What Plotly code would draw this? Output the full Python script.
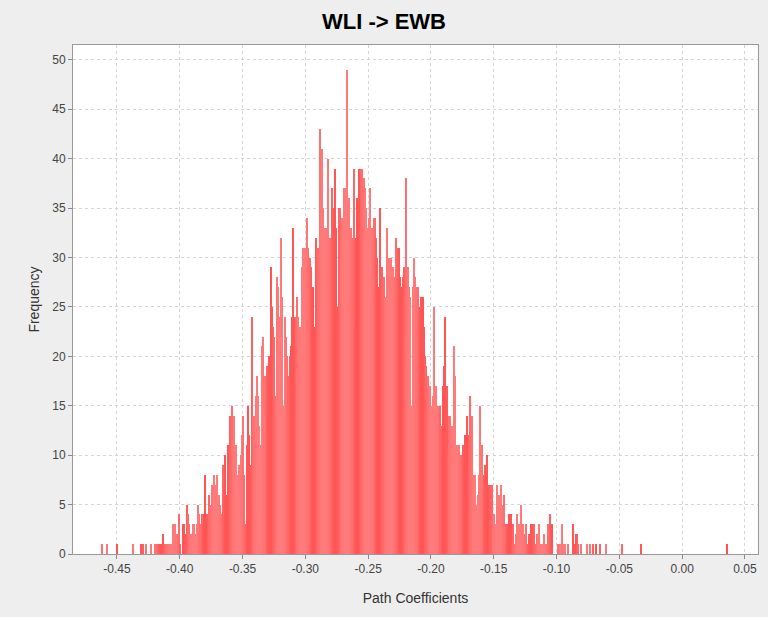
import numpy as np
import plotly.graph_objects as go

# ---- data ----
bin_start = -0.463
bin_width = 0.001
counts = [
    0, 1, 0, 0, 0, 1, 0, 0, 0, 0,
    0, 0, 0, 1, 0, 0, 0, 0, 0, 0,
    0, 0, 0, 0, 0, 1, 0, 0, 0, 0,
    0, 0, 1, 1, 0, 0, 1, 0, 0, 0,
    1, 0, 0, 1, 1, 1, 1, 1, 1, 2,
    1, 1, 1, 1, 1, 1, 1, 3, 3, 3,
    2, 2, 4, 1, 0, 3, 3, 2, 5, 4,
    3, 2, 2, 3, 3, 2, 3, 5, 4, 3,
    4, 3, 4, 8, 4, 4, 6, 5, 7, 6,
    8, 7, 8, 6, 6, 5, 4, 9, 7, 10,
    6, 11, 9, 14, 15, 11, 14, 11, 8, 7,
    9, 10, 12, 14, 8, 3, 11, 15, 12, 9,
    24, 14, 14, 16, 18, 16, 13, 11, 21, 22,
    18, 18, 19, 18, 20, 29, 25, 23, 22, 16,
    28, 27, 24, 32, 26, 15, 24, 22, 20, 18,
    20, 21, 24, 33, 24, 24, 26, 24, 23, 19,
    29, 31, 31, 31, 34, 31, 30, 29, 27, 27,
    23, 32, 31, 31, 43, 36, 41, 35, 33, 33,
    33, 40, 32, 32, 37, 35, 39, 33, 25, 35,
    35, 30, 34, 37, 37, 36, 49, 36, 33, 33,
    32, 39, 23, 32, 36, 39, 34, 39, 39, 38,
    37, 35, 33, 34, 37, 26, 33, 34, 34, 32,
    30, 27, 35, 29, 29, 28, 26, 26, 33, 30,
    30, 30, 29, 25, 28, 32, 31, 31, 28, 27,
    28, 29, 22, 38, 29, 27, 26, 15, 27, 30,
    28, 27, 27, 25, 25, 26, 26, 23, 20, 19,
    18, 17, 17, 15, 16, 25, 17, 17, 15, 15,
    15, 13, 17, 19, 24, 17, 10, 14, 14, 13,
    13, 21, 18, 11, 11, 11, 10, 10, 11, 11,
    12, 14, 8, 12, 16, 14, 8, 8, 8, 5,
    6, 8, 15, 11, 6, 8, 9, 10, 6, 7,
    7, 7, 4, 4, 3, 7, 5, 6, 7, 4,
    5, 6, 3, 3, 3, 4, 4, 1, 3, 1,
    2, 4, 3, 3, 5, 3, 3, 2, 3, 1,
    1, 2, 3, 3, 3, 3, 1, 2, 2, 3,
    1, 1, 0, 2, 1, 1, 3, 4, 3, 3,
    0, 0, 0, 0, 1, 1, 1, 3, 1, 1,
    0, 0, 1, 0, 0, 0, 3, 1, 2, 2,
    1, 0, 1, 0, 0, 0, 0, 1, 0, 1,
    0, 0, 1, 0, 1, 0, 0, 1, 0, 0,
    0, 0, 1, 0, 0, 0, 0, 0, 0, 0,
    0, 0, 0, 0, 0, 1, 0, 0, 0, 0,
    0, 0, 0, 0, 0, 0, 0, 0, 0, 0,
    1, 0, 0, 0, 0, 0, 0, 0, 0, 0,
    0, 0, 0, 0, 0, 0, 0, 0, 0, 0,
    0, 0, 0, 0, 0, 0, 0, 0, 0, 0,
    0, 0, 0, 0, 0, 0, 0, 0, 0, 0,
    0, 0, 0, 0, 0, 0, 0, 0, 0, 0,
    0, 0, 0, 0, 0, 0, 0, 0, 0, 0,
    0, 0, 0, 0, 0, 0, 0, 0, 1, 0,
]
x_tick_vals = [-0.45, -0.40, -0.35, -0.30, -0.25, -0.20, -0.15, -0.10, -0.05, 0.00, 0.05]
x_tick_text = ["-0.45", "-0.40", "-0.35", "-0.30", "-0.25", "-0.20", "-0.15", "-0.10", "-0.05", "0.00", "0.05"]
y_tick_vals = [0, 5, 10, 15, 20, 25, 30, 35, 40, 45, 50]

title_text = "WLI -> EWB"
x_title = "Path Coefficients"
y_title = "Frequency"

# ---- derived ----
n = len(counts)
idx = np.arange(n)
centers = bin_start + (idx + 0.5) * bin_width

# subtle striped colouring, imitating the gradient bar painter of the reference
phase = (0.5 + 0.5 * np.cos(2 * np.pi * (idx - 134.8) / 17.3)) ** 2
g_light, g_dark = 122, 84
colors = []
for p in phase:
    g = int(round(g_light + (g_dark - g_light) * p))
    colors.append(f"rgb(255,{g},{g})")

fig = go.Figure()
fig.add_trace(go.Bar(
    x=centers,
    y=counts,
    width=bin_width,
    marker=dict(color=colors, line=dict(width=0)),
    hoverinfo="x+y",
))

axis_font = dict(family="Liberation Sans, Arial, sans-serif", size=12, color="#444444")
fig.update_layout(
    width=768,
    height=617,
    paper_bgcolor="#EEEEEE",
    plot_bgcolor="#FFFFFF",
    margin=dict(l=73, r=10, t=45, b=63),
    bargap=0,
    showlegend=False,
    title=dict(
        text=title_text,
        x=0.5,
        xanchor="center",
        y=1 - 21 / 617,
        yanchor="middle",
        font=dict(family="Liberation Sans, Arial, sans-serif", size=22, color="#000000", weight="bold"),
    ),
    xaxis=dict(
        range=[-0.485, 0.0604],
        tickvals=x_tick_vals,
        ticktext=x_tick_text,
        tickfont=axis_font,
        ticks="outside",
        ticklen=4,
        tickcolor="#888888",
        showline=True,
        linecolor="#999999",
        linewidth=1,
        mirror=True,
        showgrid=True,
        gridcolor="#D4D4D4",
        griddash="3px,3px",
        gridwidth=1,
        zeroline=False,
        title=dict(text=x_title, font=dict(family="Liberation Sans, Arial, sans-serif", size=14, color="#333333"), standoff=17),
    ),
    yaxis=dict(
        range=[0, 51.5],
        tickvals=y_tick_vals,
        tickfont=axis_font,
        ticks="outside",
        ticklen=4,
        tickcolor="#888888",
        showline=True,
        linecolor="#999999",
        linewidth=1,
        mirror=True,
        showgrid=True,
        gridcolor="#D4D4D4",
        griddash="3px,3px",
        gridwidth=1,
        zeroline=False,
        title=dict(text=y_title, font=dict(family="Liberation Sans, Arial, sans-serif", size=14, color="#333333"), standoff=9),
    ),
)

fig.write_html(
    "out.html",
    config={"displayModeBar": False},
    post_script="document.body.style.margin='0';document.body.style.overflow='hidden';",
)
